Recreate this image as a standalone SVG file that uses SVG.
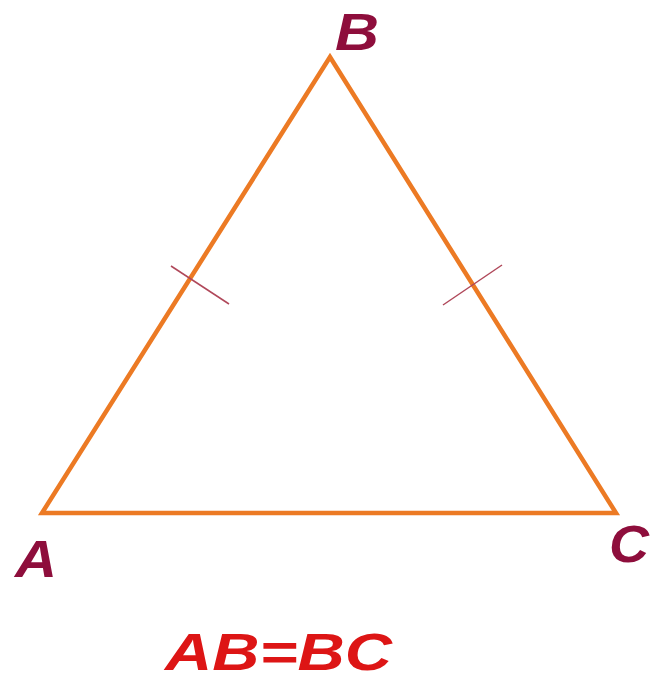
<svg xmlns="http://www.w3.org/2000/svg" width="650" height="681" viewBox="0 0 650 681">
<style>
.edge{fill:none;stroke:#EC7A24;stroke-width:4.5;stroke-linejoin:miter}
.tick{stroke:#B0485A;stroke-width:1.5}
.lbl{font-family:"Liberation Sans",Arial,sans-serif;font-weight:bold;font-style:italic;font-size:52px;fill:#8E0E3C}
.eq{font-family:"Liberation Sans",Arial,sans-serif;font-weight:bold;font-style:italic;font-size:52px;fill:#DD1515}
</style>
<rect width="650" height="681" fill="#ffffff"/>
<g id="connectors">
<polygon class="edge" points="42,513 330,57 616,513"/>
<line class="tick" x1="171" y1="266" x2="229" y2="304"/>
<line class="tick" x1="443" y1="305" x2="502" y2="265"/>
</g>
<g id="node-B"><text class="lbl" x="335" y="50" textLength="44" lengthAdjust="spacingAndGlyphs">B</text></g>
<g id="node-A"><text class="lbl" x="15" y="577" textLength="42" lengthAdjust="spacingAndGlyphs">A</text></g>
<g id="node-C"><text class="lbl" x="609" y="562" textLength="40" lengthAdjust="spacingAndGlyphs">C</text></g>
<g id="equation"><text class="eq" x="165" y="670" textLength="227" lengthAdjust="spacingAndGlyphs">AB=BC</text></g>
</svg>
